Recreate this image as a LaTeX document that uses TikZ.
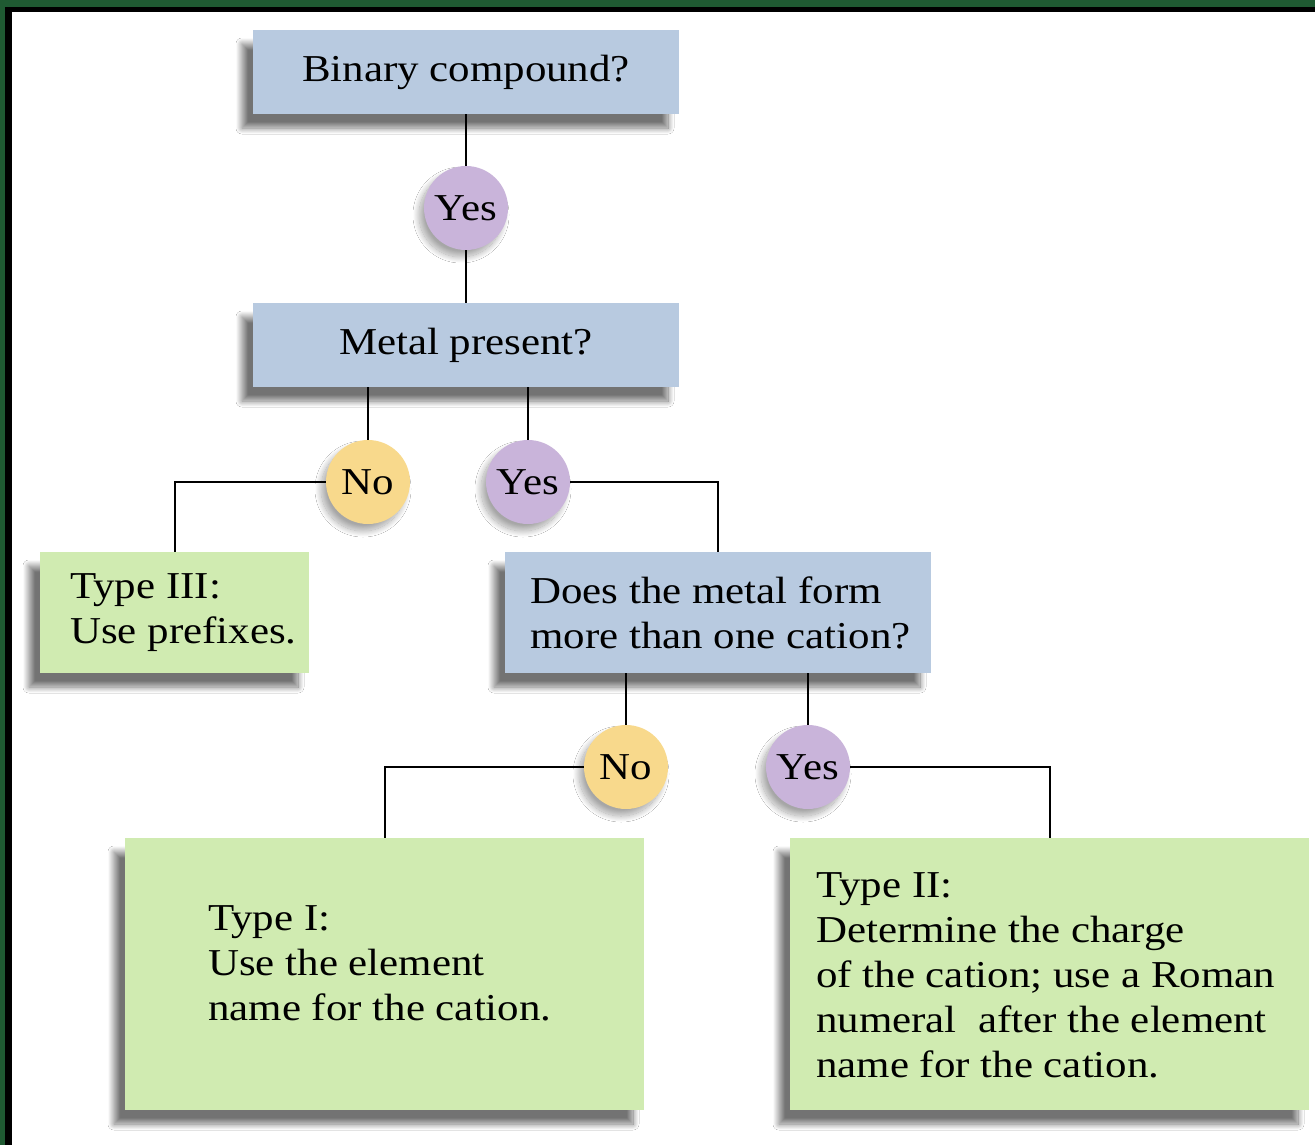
\documentclass[tikz,border=0pt]{standalone}
\usepackage{fontspec}
\setmainfont{Liberation Serif}[FakeStretch=1.13]
\usetikzlibrary{shadows.blur}
\definecolor{boxblue}{HTML}{B8CAE0}
\definecolor{boxgreen}{HTML}{D0EBB1}
\definecolor{yesviolet}{HTML}{C9B4DA}
\definecolor{noyellow}{HTML}{F8D98C}
\definecolor{framegreen}{HTML}{1F5A32}
\tikzset{
  shd/.style={blur shadow={shadow xshift=-11pt, shadow yshift=-14pt, shadow blur radius=6pt, shadow blur steps=20, shadow opacity=55, shadow blur extra rounding=0pt}},
  qbox/.style={rectangle, fill=boxblue, shd, inner sep=0pt},
  abox/.style={rectangle, fill=boxgreen, shd, inner sep=0pt},
  cshd/.style={blur shadow={shadow xshift=-5pt, shadow yshift=-7pt, shadow blur radius=6pt, shadow blur steps=20, shadow opacity=35}},
  yesc/.style={circle, fill=yesviolet, minimum size=84pt, inner sep=0pt, cshd},
  noc/.style={circle, fill=noyellow, minimum size=84pt, inner sep=0pt, cshd},
  txt/.style={font=\fontsize{38}{45}\selectfont, text=black},
  lbl/.style={txt, anchor=west, align=left, inner sep=0pt},
  conn/.style={line width=2pt, black}
}
\begin{document}
\begin{tikzpicture}[x=1pt,y=-1pt]
\useasboundingbox (0,0) rectangle (1315,1145);
\fill[framegreen] (0,0) rectangle (1315,1145);
\fill[black] (5,7) rectangle (1315,1145);
\fill[white] (12,12) rectangle (1315,1145);

\node[qbox, minimum width=426pt, minimum height=84pt, txt] (b1) at (466,72) {Binary compound?};
\node[yesc, txt] (y1) at (466,208) {Yes};
\node[qbox, minimum width=426pt, minimum height=84pt, txt] (b2) at (466,345) {Metal present?};
\node[noc, txt] (n1) at (368,482) {No};
\node[yesc, txt] (y2) at (528,482) {Yes};
\node[abox, minimum width=269pt, minimum height=121pt] (b3) at (174.5,612.5) {};
\node[lbl] (t3) at (70,612.5) {Type III:\\Use prefixes.};
\node[qbox, minimum width=426pt, minimum height=121pt] (b4) at (718,612.5) {};
\node[lbl] (t4) at (530,612.5) {Does the metal form\\more than one cation?};
\node[noc, txt] (n2) at (626,767) {No};
\node[yesc, txt] (y3) at (808,767) {Yes};
\node[abox, minimum width=519pt, minimum height=272pt] (b5) at (384.5,974) {};
\node[lbl] (t5) at (208,963) {Type I:\\Use the element\\name for the cation.};
\node[abox, minimum width=519pt, minimum height=272pt] (b6) at (1049.5,974) {};
\node[lbl] (t6) at (816,975) {Type II:\\Determine the charge\\of the cation; use a Roman\\numeral\ \ after the element\\name for the cation.};

\draw[conn] (b1.south) -- (y1.north);
\draw[conn] (y1.south) -- (b2.north);
\draw[conn] (b2.south -| n1.north) -- (n1.north);
\draw[conn] (b2.south -| y2.north) -- (y2.north);
\draw[conn] (n1.west) -| (b3.north);
\draw[conn] (y2.east) -| (b4.north);
\draw[conn] (b4.south -| n2.north) -- (n2.north);
\draw[conn] (b4.south -| y3.north) -- (y3.north);
\draw[conn] (n2.west) -| (b5.north);
\draw[conn] (y3.east) -| (b6.north);
\end{tikzpicture}
\end{document}
